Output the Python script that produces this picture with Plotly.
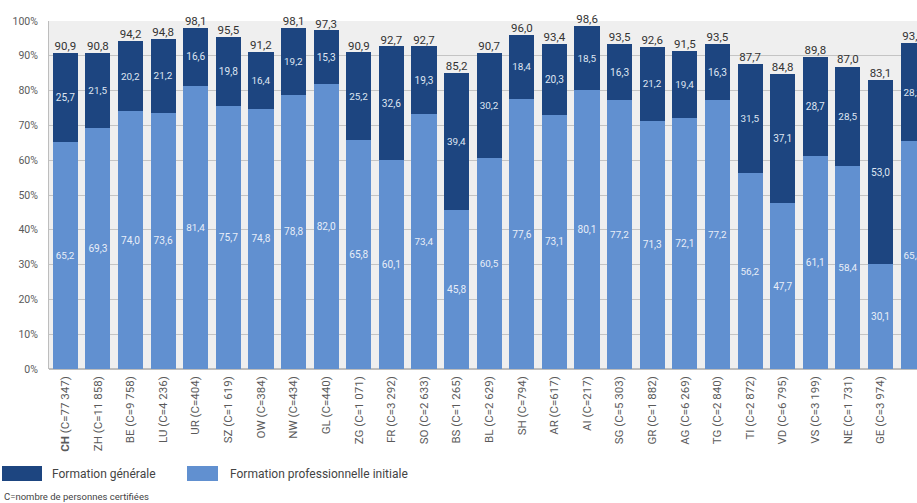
import plotly.graph_objects as go

cantons = ["CH", "ZH", "BE", "LU", "UR", "SZ", "OW", "NW", "GL", "ZG", "FR", "SO", "BS", "BL",
           "SH", "AR", "AI", "SG", "GR", "AG", "TG", "TI", "VD", "VS", "NE", "GE", "JU"]
certified = ["77 347", "11 858", "9 758", "4 236", "404", "1 619", "384", "434", "440", "1 071",
             "3 292", "2 633", "1 265", "2 629", "794", "617", "217", "5 303", "1 882", "6 269",
             "2 840", "2 872", "6 795", "3 199", "1 731", "3 974", "829"]
prof_initiale = [65.2, 69.3, 74.0, 73.6, 81.4, 75.7, 74.8, 78.8, 82.0, 65.8, 60.1, 73.4, 45.8, 60.5,
                 77.6, 73.1, 80.1, 77.2, 71.3, 72.1, 77.2, 56.2, 47.7, 61.1, 58.4, 30.1, 65.4]
generale = [25.7, 21.5, 20.2, 21.2, 16.6, 19.8, 16.4, 19.2, 15.3, 25.2, 32.6, 19.3, 39.4, 30.2,
            18.4, 20.3, 18.5, 16.3, 21.2, 19.4, 16.3, 31.5, 37.1, 28.7, 28.5, 53.0, 28.2]
totals = [90.9, 90.8, 94.2, 94.8, 98.1, 95.5, 91.2, 98.1, 97.3, 90.9, 92.7, 92.7, 85.2, 90.7,
          96.0, 93.4, 98.6, 93.5, 92.6, 91.5, 93.5, 87.7, 84.8, 89.8, 87.0, 83.1, 93.6]

DARK = "#1d4580"
LIGHT = "#6190d0"
FONT = "Roboto"

def fr(v):
    return f"{v:.1f}".replace(".", ",")

ticktext = []
for i, (c, n) in enumerate(zip(cantons, certified)):
    if i == 0:
        ticktext.append(f"<b>{c}</b> (C={n})")
    else:
        ticktext.append(f"{c} (C={n})")

x = list(range(len(cantons)))

fig = go.Figure()
fig.add_trace(go.Bar(
    x=x, y=prof_initiale, name="Formation professionnelle initiale",
    marker=dict(color=LIGHT, line=dict(width=0)),
    text=[fr(v) for v in prof_initiale], textposition="inside", insidetextanchor="middle",
    textangle=0, textfont=dict(color="#e8eef8", size=11.5, family=FONT),
))
fig.add_trace(go.Bar(
    x=x, y=generale, name="Formation générale",
    marker=dict(color=DARK, line=dict(width=0)),
    text=[fr(v) for v in generale], textposition="inside", insidetextanchor="middle",
    textangle=0, textfont=dict(color="#dfe6f2", size=11.5, family=FONT),
))
fig.add_trace(go.Scatter(
    x=x, y=totals, mode="text", text=[fr(v) for v in totals],
    textposition="top center", textfont=dict(color="#333333", size=11.5, family=FONT),
    cliponaxis=False, showlegend=False, hoverinfo="skip",
))

fig.update_layout(
    width=917, height=503,
    barmode="stack", bargap=0.23,
    margin=dict(l=49, r=0, t=21, b=134),
    plot_bgcolor="#efefef", paper_bgcolor="#ffffff",
    showlegend=False,
    uniformtext=dict(mode=False),
    font=dict(family=FONT, color="#555555", size=11),
)
fig.update_xaxes(
    range=[-0.5, 26.12], tickmode="array", tickvals=x, ticktext=ticktext,
    tickangle=-90, tickfont=dict(size=11.5, color="#5a5a5a", family=FONT),
    showgrid=False, showline=False, ticks="", ticklen=0, ticklabelstandoff=4,
)
fig.update_yaxes(
    range=[0, 100], tickmode="array", tickvals=list(range(0, 101, 10)),
    ticktext=[f"{v}%" for v in range(0, 101, 10)],
    tickfont=dict(size=10.5, color="#5a5a5a", family=FONT),
    showgrid=True, gridcolor="#c4c4c4", gridwidth=1,
    showline=True, linecolor="#bdbdbd", linewidth=1,
    zeroline=True, zerolinecolor="#bdbdbd", ticks="", ticklabelstandoff=8,
)

# legend drawn below the axis
legend_items = [("Formation générale", DARK, 2, 42, 50),
                ("Formation professionnelle initiale", LIGHT, 187, 218, 228)]
for label, color, x0, x1, tx in legend_items:
    fig.add_shape(type="rect", xref="paper", yref="paper",
                  x0=(x0 - 49) / 868, x1=(x1 - 49) / 868,
                  y0=-(466 - 369) / 348, y1=-(481 - 369) / 348,
                  fillcolor=color, line=dict(width=0))
    fig.add_annotation(text=label, xref="paper", yref="paper",
                       x=(tx - 49) / 868, y=-(474 - 369) / 348,
                       xanchor="left", yanchor="middle", showarrow=False,
                       font=dict(size=12, color="#444444", family=FONT))
fig.add_annotation(text="C=nombre de personnes certifiées", xref="paper", yref="paper",
                   x=(2 - 49) / 868, y=-(496 - 369) / 348,
                   xanchor="left", yanchor="middle", showarrow=False,
                   font=dict(size=9.5, color="#444444", family=FONT))

fig.write_html("out.html", config={"displayModeBar": False},
               post_script="document.body.style.margin='0';document.body.style.overflow='hidden';")
